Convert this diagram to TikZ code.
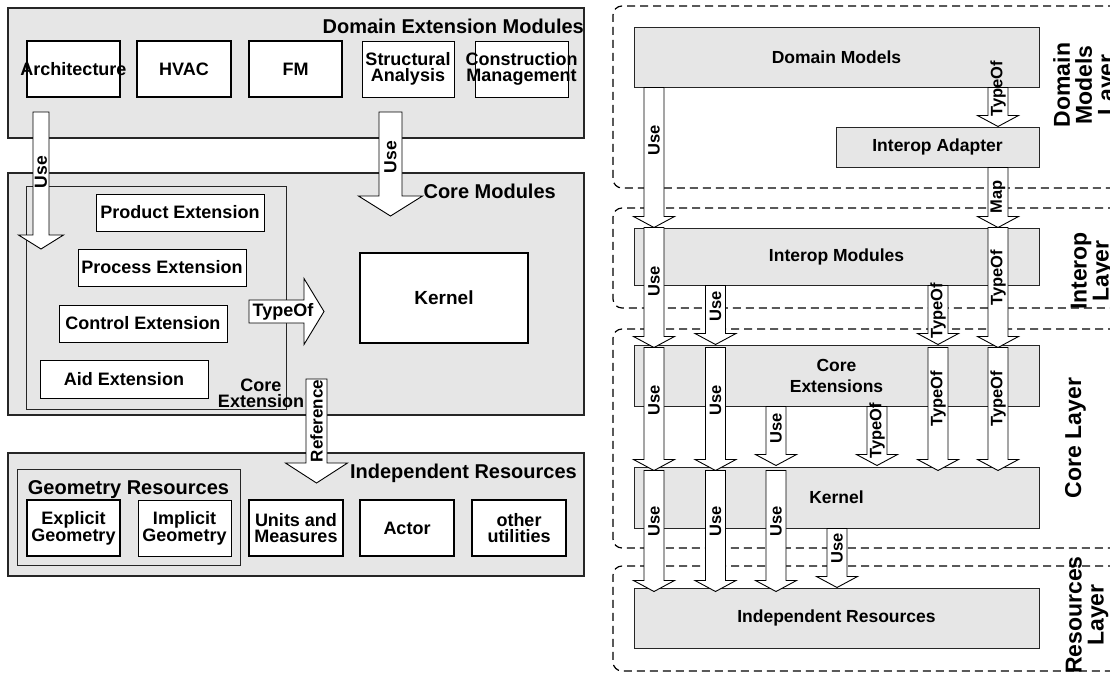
\documentclass[tikz,border=0pt]{standalone}
\usepackage{fontspec}
\setmainfont{Liberation Sans}
\usetikzlibrary{calc,fit}
\definecolor{panelgray}{RGB}{230,230,230}
\newcommand{\myfont}[2]{\fontsize{#1}{#2}\selectfont\bfseries}
% box with separately placed centred text
\newcommand{\Bx}[8][thinbox]{%
  \node[#1, fit={(#4,#5) (#6,#7)}, inner sep=0pt] (#3) {};
  \node[#2] at (#3.center) {#8};
}
% vertical fat arrow: [label opts]{start}{tip}{body hw}{head hw}{head len}{label}{label offset}
\newcommand{\vArrow}[8][]{%
  \draw[fatarrow] let \p1=(#2), \p2=(#3) in
    (\x1-#4pt,\y1) -- (\x1+#4pt,\y1) -- (\x1+#4pt,\y2+#6pt) -- (\x1+#5pt,\y2+#6pt)
    -- (\x1,\y2) -- (\x1-#5pt,\y2+#6pt) -- (\x1-#4pt,\y2+#6pt) -- cycle
    (\x1,\y1-#8pt) node[arrlbl,#1] {#7};
}
\begin{document}
\begin{tikzpicture}[x=1pt,y=-1pt,
  panel/.style={draw=black!85, line width=1.2pt, fill=panelgray},
  inner/.style={draw=black!85, line width=1pt},
  thickbox/.style={draw=black, line width=2.2pt, fill=white},
  thinbox/.style={draw=black, line width=0.8pt, fill=white},
  rbox/.style={draw=black!85, line width=1pt, fill=panelgray},
  layer/.style={draw=black, line width=1.2pt, dash pattern=on 8pt off 5pt, rounded corners=9pt},
  fatarrow/.style={draw=black, line width=0.9pt, fill=white, line join=miter},
  arrlbl/.style={font=\myfont{16.5}{18}, inner sep=0pt, rotate=90},
  lbl/.style={font=\myfont{18}{16}, align=center, inner sep=0pt},
  klbl/.style={font=\myfont{19}{19}, align=center, inner sep=0pt},
  rlbl/.style={font=\myfont{17.5}{21}, align=center, inner sep=0pt},
  ttl/.style={font=\myfont{20}{20}, inner sep=0pt},
  layerlbl/.style={font=\myfont{23}{22}, align=center, inner sep=0pt, rotate=90}
]
\useasboundingbox (0,0) rectangle (1110,673);
\clip (0,0) rectangle (1110,673);

% ================= LEFT DIAGRAM =================
\node[panel, fit={(8,8) (584,138)}, inner sep=0pt] (dem) {};
\node[panel, fit={(8,173) (584,415)}, inner sep=0pt] (cm) {};
\node[panel, fit={(8,453) (584,576)}, inner sep=0pt] (ir) {};
\node[inner, fit={(26,186) (286,409)}, inner sep=0pt] (cext) {};
\node[inner, fit={(17,469) (240,565)}, inner sep=0pt] (geo) {};

\node[ttl, anchor=base east] (demt) at (584,33) {Domain Extension Modules};
\node[ttl, anchor=base east] (cmt) at (556,198) {Core Modules};
\node[lbl, align=center] (cextt) at (261,393) {Core\\Extension};
\node[ttl, anchor=base] (geot) at (128.5,494) {Geometry Resources};
\node[ttl, anchor=base east] (irt) at (577,478) {Independent Resources};

\Bx[thickbox]{lbl}{arch}{27}{41}{120}{97}{Architecture}
\Bx[thickbox]{lbl}{hvac}{137}{41}{231}{97}{HVAC}
\Bx[thickbox]{lbl}{fm}{249}{41}{342}{97}{FM}
\Bx[thinbox]{lbl}{sa}{362}{41}{454}{97}{Structural\\Analysis}
\Bx[thinbox]{lbl}{cmg}{475}{41}{568}{97}{Construction\\Management}

\Bx[thinbox]{lbl}{pe}{96}{194}{264}{231}{Product Extension}
\Bx[thinbox]{lbl}{pre}{78}{249}{246}{286}{Process Extension}
\Bx[thinbox]{lbl}{ctl}{59}{305}{227}{342}{Control Extension}
\Bx[thinbox]{lbl}{aid}{40}{360}{208}{398}{Aid Extension}
\Bx[thickbox]{klbl}{kern}{360}{253}{528}{343}{Kernel}

\Bx[thickbox]{lbl}{eg}{27}{500}{120}{556}{Explicit\\Geometry}
\Bx[thinbox]{lbl}{ig}{138}{500}{231}{556}{Implicit\\Geometry}
\Bx[thickbox]{lbl}{um}{249}{500}{343}{556}{Units and\\Measures}
\Bx[thickbox]{lbl}{act}{360}{500}{454}{556}{Actor}
\Bx[thickbox]{lbl}{ou}{472}{500}{566}{556}{other\\utilities}

% left arrows
\coordinate (u1s) at (41,112);   \coordinate (u1t) at (41,249);
\coordinate (u2s) at (390.5,112); \coordinate (u2t) at (390.5,216);
\coordinate (rfs) at (316.5,379); \coordinate (rft) at (316.5,483);
\vArrow[font=\myfont{17.5}{18}]{u1s}{u1t}{8}{22.5}{14}{Use}{60}
\vArrow[font=\myfont{17.5}{18}]{u2s}{u2t}{11.5}{32}{20}{Use}{45}
\vArrow[font=\myfont{17}{18}]{rfs}{rft}{10.5}{31}{20}{Reference}{42}
% horizontal TypeOf arrow
\coordinate (tys) at (249,311.5); \coordinate (tyt) at (324,311.5);
\draw[fatarrow] let \p1=(tys), \p2=(tyt) in
  (\x1,\y1+11.5pt) -- (\x2-20pt,\y1+11.5pt) -- (\x2-20pt,\y1+33pt) -- (\x2,\y2)
  -- (\x2-20pt,\y1-33pt) -- (\x2-20pt,\y1-11.5pt) -- (\x1,\y1-11.5pt) -- cycle;
\node[font=\myfont{18}{18}, inner sep=0pt] (tyl) at (283,312) {TypeOf};

% ================= RIGHT DIAGRAM =================
\node[layer, fit={(613,6) (1125,188)}, inner sep=0pt] (ldm) {};
\node[layer, fit={(613,208) (1125,308)}, inner sep=0pt] (lio) {};
\node[layer, fit={(613,329) (1125,548)}, inner sep=0pt] (lco) {};
\node[layer, fit={(613,566) (1125,671)}, inner sep=0pt] (lre) {};

\node[layerlbl] (ldmt) at (1086,85) {Domain\\Models\\Layer};
\node[layerlbl] (liot) at (1092,271) {Interop\\Layer};
\node[layerlbl] (lcot) at (1075.5,438) {Core Layer};
\node[layerlbl] (lret) at (1087,615) {Resources\\Layer};

\Bx[rbox]{rlbl}{dm}{634}{27}{1039}{87}{Domain Models}
\Bx[rbox]{rlbl}{ia}{836}{127}{1039}{167}{Interop Adapter}
\Bx[rbox]{rlbl}{im}{634}{228}{1039}{285}{Interop Modules}
\Bx[rbox]{rlbl}{ce}{634}{345}{1039}{406}{Core\\Extensions}
\Bx[rbox]{rlbl}{kn}{634}{467}{1039}{528}{Kernel}
\Bx[rbox]{rlbl}{irr}{634}{588}{1039}{648}{Independent Resources}

\coordinate (c1) at (654,0);
\coordinate (c2) at (715.5,0);
\coordinate (c3) at (776,0);
\coordinate (c35) at (837,0);
\coordinate (c4) at (877,0);
\coordinate (c5) at (938,0);
\coordinate (c6) at (998,0);

\vArrow{c1 |- dm.south}{c1 |- im.north}{10}{20.5}{11}{Use}{53}
\vArrow{c6 |- dm.south}{c6 |- ia.north}{10}{20.5}{11}{TypeOf}{1}
\vArrow{c6 |- ia.south}{c6 |- im.north}{10}{20.5}{11}{Map}{29}

\vArrow{c1 |- im.north}{$(c1 |- ce.north)+(0,3)$}{10}{20.5}{11}{Use}{54}
\vArrow{c2 |- im.south}{c2 |- ce.north}{10}{20.5}{11}{Use}{21}
\vArrow{c5 |- im.south}{c5 |- ce.north}{10}{20.5}{11}{TypeOf}{25}
\vArrow{c6 |- im.north}{$(c6 |- ce.north)+(0,3)$}{10}{20.5}{11}{TypeOf}{50}

\vArrow{$(c1 |- ce.north)+(0,3)$}{$(c1 |- kn.north)+(0,4)$}{10}{20.5}{11}{Use}{53}
\vArrow{$(c2 |- ce.north)+(0,3)$}{$(c2 |- kn.north)+(0,4)$}{10}{20.5}{11}{Use}{53}
\vArrow{c3 |- ce.south}{$(c3 |- kn.north)+(0,-1)$}{10}{20.5}{11}{Use}{22}
\vArrow{c4 |- ce.south}{$(c4 |- kn.north)+(0,-1)$}{10}{20.5}{11}{TypeOf}{24}
\vArrow{$(c5 |- ce.north)+(0,3)$}{$(c5 |- kn.north)+(0,4)$}{10}{20.5}{11}{TypeOf}{51}
\vArrow{$(c6 |- ce.north)+(0,3)$}{$(c6 |- kn.north)+(0,4)$}{10}{20.5}{11}{TypeOf}{51}

\vArrow{$(c1 |- kn.north)+(0,4)$}{$(c1 |- irr.north)+(0,4)$}{10}{20.5}{11}{Use}{51}
\vArrow{$(c2 |- kn.north)+(0,4)$}{$(c2 |- irr.north)+(0,4)$}{10}{20.5}{11}{Use}{51}
\vArrow{$(c3 |- kn.north)+(0,4)$}{$(c3 |- irr.north)+(0,4)$}{10}{20.5}{11}{Use}{51}
\vArrow{c35 |- kn.south}{c35 |- irr.north}{10}{20.5}{11}{Use}{20}
\end{tikzpicture}
\end{document}
